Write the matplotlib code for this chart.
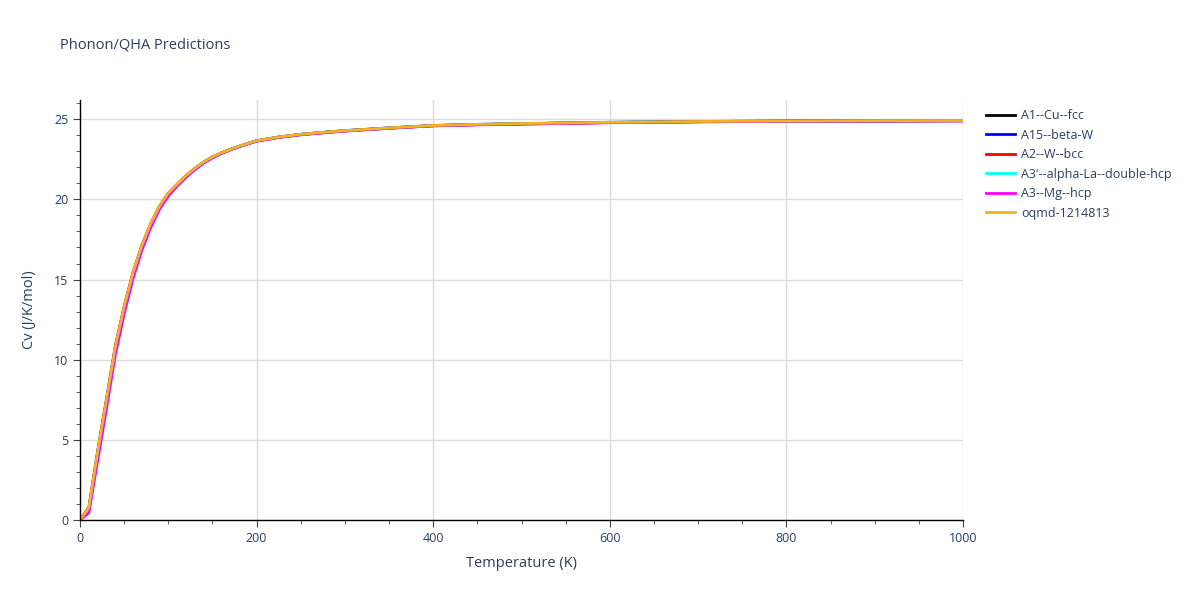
import matplotlib
matplotlib.use('Agg')
import matplotlib.pyplot as plt
from matplotlib.ticker import MultipleLocator

plt.rcParams['font.family'] = ['Open Sans', 'DejaVu Sans']

temps = [0, 10, 20, 30, 40, 50, 60, 70, 80, 90, 100, 110, 120, 130, 140, 150, 160, 170, 180, 190, 200,
         225, 250, 275, 300, 350, 400, 450, 500, 550, 600, 650, 700, 800, 900, 1000]

cv_cu_fcc = [0, 0.62, 4.05, 7.3, 10.6, 13.1, 15.27, 17.0, 18.38, 19.5, 20.3, 20.9, 21.43, 21.9, 22.3,
             22.62, 22.88, 23.1, 23.3, 23.48, 23.65, 23.88, 24.05, 24.17, 24.28, 24.45, 24.6, 24.67,
             24.72, 24.76, 24.8, 24.82, 24.85, 24.88, 24.9, 24.91]
cv_beta_w = [0, 0.78, 4.3, 7.55, 10.85, 13.32, 15.43, 17.12, 18.48, 19.58, 20.38, 20.95, 21.48, 21.94, 22.33,
             22.65, 22.9, 23.12, 23.31, 23.49, 23.66, 23.89, 24.06, 24.18, 24.29, 24.46, 24.61, 24.68,
             24.72, 24.77, 24.81, 24.83, 24.86, 24.89, 24.9, 24.91]
cv_w_bcc = [0, 0.6, 4.0, 7.25, 10.55, 13.06, 15.23, 16.97, 18.35, 19.48, 20.28, 20.89, 21.42, 21.89, 22.29,
            22.61, 22.87, 23.09, 23.29, 23.47, 23.64, 23.87, 24.04, 24.16, 24.27, 24.44, 24.59, 24.66,
            24.7, 24.74, 24.79, 24.81, 24.84, 24.87, 24.89, 24.9]
cv_la_dhcp = [0, 0.65, 4.1, 7.35, 10.65, 13.15, 15.3, 17.02, 18.4, 19.52, 20.32, 20.91, 21.44, 21.91, 22.31,
              22.62, 22.88, 23.1, 23.3, 23.48, 23.65, 23.88, 24.05, 24.17, 24.28, 24.45, 24.6, 24.67,
              24.72, 24.76, 24.8, 24.82, 24.85, 24.88, 24.9, 24.91]
cv_mg_hcp = [0, 0.45, 3.7, 6.95, 10.3, 12.85, 15.05, 16.82, 18.22, 19.38, 20.2, 20.83, 21.37, 21.85, 22.26,
             22.59, 22.86, 23.08, 23.28, 23.46, 23.63, 23.86, 24.03, 24.15, 24.26, 24.44, 24.59, 24.65,
             24.7, 24.74, 24.79, 24.81, 24.84, 24.87, 24.89, 24.9]
cv_oqmd = [0, 0.75, 4.25, 7.5, 10.8, 13.3, 15.42, 17.12, 18.48, 19.58, 20.38, 20.95, 21.48, 21.94, 22.33,
           22.65, 22.9, 23.11, 23.31, 23.49, 23.66, 23.89, 24.06, 24.18, 24.29, 24.46, 24.61, 24.68,
           24.73, 24.77, 24.81, 24.83, 24.86, 24.89, 24.91, 24.92]

names = ['A1--Cu--fcc', 'A15--beta-W', 'A2--W--bcc', "A3'--alpha-La--double-hcp",
         'A3--Mg--hcp', 'oqmd-1214813']
series = [cv_cu_fcc, cv_beta_w, cv_w_bcc, cv_la_dhcp, cv_mg_hcp, cv_oqmd]
colors = ['black', 'blue', 'red', 'cyan', 'magenta', '#EDB61A']

txt = '#2a3f5f'
fig = plt.figure(figsize=(12, 6), dpi=100)
ax = fig.add_axes([80/1200, 80/600, 883/1200, 420/600])
for name, vals, c in zip(names, series, colors):
    ax.plot(temps, vals, color=c, lw=2, label=name)

ax.set_xlim(0, 1000)
ax.set_ylim(0, 26.2)
ax.xaxis.set_major_locator(MultipleLocator(200))
ax.xaxis.set_minor_locator(MultipleLocator(50))
ax.yaxis.set_major_locator(MultipleLocator(5))
ax.yaxis.set_minor_locator(MultipleLocator(1))
ax.grid(True, which='major', color='#dcdcdc', lw=1)
ax.set_axisbelow(True)
for s in ['top', 'right']:
    ax.spines[s].set_visible(False)
for s in ['left', 'bottom']:
    ax.spines[s].set_color('black')
    ax.spines[s].set_linewidth(1)
ax.tick_params(which='major', length=5, color='#444444', labelcolor=txt, labelsize=9)
ax.tick_params(which='minor', length=3, color='#444444')
ax.set_xlabel('Temperature (K)', color=txt, fontsize=10.5, labelpad=8)
ax.set_ylabel('Cv (J/K/mol)', color=txt, fontsize=10.5, labelpad=12)
fig.text(60/1200, 1 - 45/600, 'Phonon/QHA Predictions', color=txt, fontsize=10.5, va='center')

leg = ax.legend(loc='upper left', bbox_to_anchor=((986 - 80)/883, 1 - 9/420), frameon=False,
                fontsize=9, handlelength=2.3, labelspacing=0.52, handletextpad=0.5,
                borderaxespad=0, borderpad=0)
for t in leg.get_texts():
    t.set_color(txt)

fig.savefig('out.png', dpi=100)
